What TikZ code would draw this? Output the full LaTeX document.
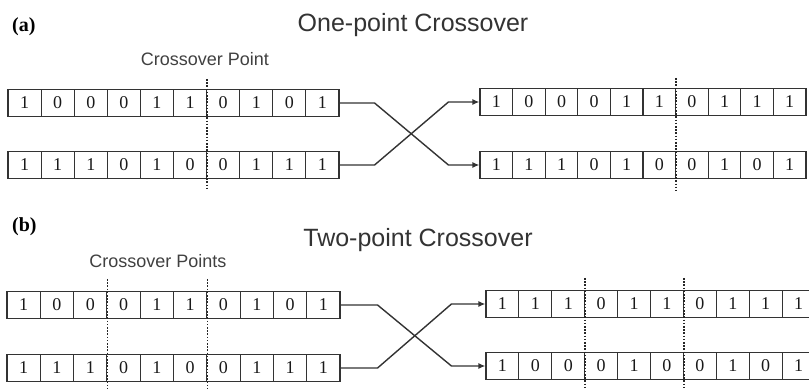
\documentclass[tikz,border=0pt]{standalone}
\usepackage{fontspec}
\setmainfont{Liberation Serif}
\setsansfont{Liberation Sans}
\usetikzlibrary{arrows.meta}
\begin{document}
\begin{tikzpicture}[x=1pt,y=-1pt]

  \tikzset{
    bitcell/.style={
      rectangle,
      draw=black!80,
      line width=1.1pt,
      minimum height=27pt,
      inner sep=0pt,
      font=\fontsize{18}{18}\selectfont,
      text=black!90
    },
    panellabel/.style={
      inner sep=0pt,
      anchor=base west,
      font=\bfseries\fontsize{20}{20}\selectfont
    },
    paneltitle/.style={
      inner sep=0pt,
      anchor=base,
      text=black!80,
      font=\sffamily\fontsize{25}{25}\selectfont
    },
    cutlabel/.style={
      inner sep=0pt,
      anchor=base,
      text=black!75,
      font=\sffamily\fontsize{18}{18}\selectfont
    },
    cutline/.style={black!85, line width=1.6pt, dash pattern=on 1.6pt off 1.6pt},
    swapline/.style={black!80, line width=1.4pt},
    swaparrow/.style={swapline, -{Latex[length=7pt,width=6pt]}}
  }

  \useasboundingbox (0,0) rectangle (809,390);

  % (a) one-point crossover
  \node[panellabel] (tagA) at (12,32) {(a)};
  \node[paneltitle] (titleA) at (413,32) {One-point Crossover};
  \node[cutlabel] (cutA) at (205,66) {Crossover Point};

  \foreach \b [count=\i] in {1,0,0,0,1,1,0,1,0,1}
    \node[bitcell, minimum width=33.1pt] (a1-\i) at ({8+33.1*(\i-0.5)},103) {\b};
  \foreach \b [count=\i] in {1,1,1,0,1,0,0,1,1,1}
    \node[bitcell, minimum width=33.1pt] (a2-\i) at ({8+33.1*(\i-0.5)},165) {\b};
  \foreach \b [count=\i] in {1,0,0,0,1,1,0,1,1,1}
    \node[bitcell, minimum width=32.6pt] (a3-\i) at ({480+32.6*(\i-0.5)},102) {\b};
  \foreach \b [count=\i] in {1,1,1,0,1,0,0,1,0,1}
    \node[bitcell, minimum width=32.6pt] (a4-\i) at ({480+32.6*(\i-0.5)},165) {\b};

  \draw[cutline] ([yshift=10pt]a1-6.north east) -- ([yshift=-11pt]a2-6.south east);
  \draw[cutline] ([yshift=10pt]a3-6.north east) -- ([yshift=-11pt]a4-6.south east);

  \draw[swaparrow] (a1-10.east) -- ++(35,0) -- ([xshift=-31pt]a4-1.west) -- (a4-1.west);
  \draw[swaparrow] (a2-10.east) -- ++(35,0) -- ([xshift=-31pt]a3-1.west) -- (a3-1.west);

  % (b) two-point crossover
  \node[panellabel] (tagB) at (12,232) {(b)};
  \node[paneltitle] (titleB) at (418,247) {Two-point Crossover};
  \node[cutlabel] (cutB) at (158,268) {Crossover Points};

  \foreach \b [count=\i] in {1,0,0,0,1,1,0,1,0,1}
    \node[bitcell, minimum width=33.3pt] (b1-\i) at ({7+33.3*(\i-0.5)},305) {\b};
  \foreach \b [count=\i] in {1,1,1,0,1,0,0,1,1,1}
    \node[bitcell, minimum width=33.3pt] (b2-\i) at ({7+33.3*(\i-0.5)},368) {\b};
  \foreach \b [count=\i] in {1,1,1,0,1,1,0,1,1,1}
    \node[bitcell, minimum width=32.9pt] (b3-\i) at ({486+32.9*(\i-0.5)},304) {\b};
  \foreach \b [count=\i] in {1,0,0,0,1,0,0,1,0,1}
    \node[bitcell, minimum width=32.9pt] (b4-\i) at ({486+32.9*(\i-0.5)},366) {\b};

  \draw[cutline] ([yshift=12pt]b1-3.north east) -- ([yshift=-8pt]b2-3.south east);
  \draw[cutline] ([yshift=12pt]b1-6.north east) -- ([yshift=-8pt]b2-6.south east);
  \draw[cutline] ([yshift=12pt]b3-3.north east) -- ([yshift=-8pt]b4-3.south east);
  \draw[cutline] ([yshift=12pt]b3-6.north east) -- ([yshift=-8pt]b4-6.south east);

  \draw[swaparrow] (b1-10.east) -- ++(37,0) -- ([xshift=-34pt]b4-1.west) -- (b4-1.west);
  \draw[swaparrow] (b2-10.east) -- ++(37,0) -- ([xshift=-34pt]b3-1.west) -- (b3-1.west);

\end{tikzpicture}
\end{document}
